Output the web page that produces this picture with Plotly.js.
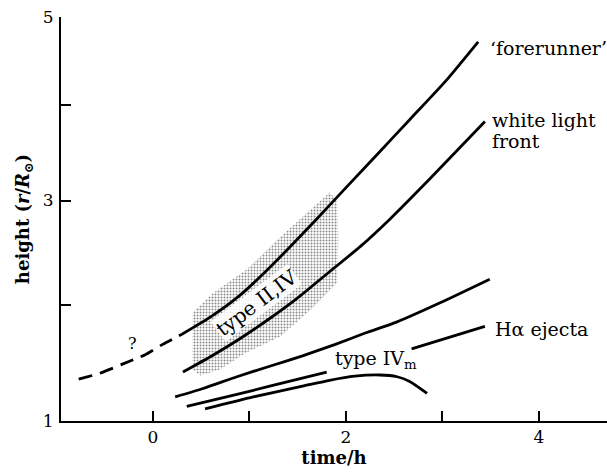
<!DOCTYPE html>
<html>
<head>
<meta charset="utf-8">
<script src="https://cdn.plot.ly/plotly-3.0.1.min.js"></script>
<style>html,body{margin:0;padding:0;background:#fff;}#chart{width:607px;height:472px;}</style>
</head>
<body>
<div id="chart"></div>
<script>
// ---- data (time in h, height in r/Rsun) ----
const forerunnerDashT = [-0.77, -0.55, -0.31, -0.08, 0.10, 0.30];
const forerunnerDashR = [1.35, 1.40, 1.48, 1.56, 1.65, 1.74];
const forerunnerT = [0.30, 0.59, 0.90, 1.21, 1.68, 2.01, 2.35, 2.66, 3.03, 3.37];
const forerunnerR = [1.74, 1.89, 2.09, 2.35, 2.80, 3.14, 3.50, 3.84, 4.26, 4.71];
const whiteLightT = [0.31, 0.59, 0.90, 1.21, 1.49, 1.83, 2.15, 2.46, 2.87, 3.44];
const whiteLightR = [1.41, 1.54, 1.70, 1.88, 2.06, 2.31, 2.55, 2.82, 3.22, 3.82];
const lowerT = [0.23, 0.52, 0.87, 1.21, 1.55, 1.89, 2.20, 2.53, 2.97, 3.49];
const lowerR = [1.20, 1.27, 1.37, 1.46, 1.55, 1.65, 1.75, 1.85, 2.02, 2.24];
const hAlphaT = [0.35, 0.87, 1.21, 1.80, null, 2.68, 3.06, 3.44];
const hAlphaR = [1.12, 1.22, 1.29, 1.41, null, 1.61, 1.71, 1.81];
const typeIVmT = [0.54, 1.04, 1.55, 1.83, 2.09, 2.35, 2.53, 2.66, 2.84];
const typeIVmR = [1.10, 1.20, 1.29, 1.34, 1.375, 1.385, 1.37, 1.33, 1.23];
const typeIIIVT = [0.41, 0.62, 0.97, 1.32, 1.60, 1.83, 1.91, 1.92, 1.91, 1.66, 1.32, 0.97, 0.69, 0.49, 0.41, 0.41];
const typeIIIVR = [1.93, 2.11, 2.33, 2.64, 2.88, 3.08, 3.00, 2.61, 2.21, 1.98, 1.72, 1.58, 1.43, 1.38, 1.43, 1.93];
const xMajorTicks = [0, 2, 4];
const xMinorTicks = [1, 3];
const yMajorTicks = [1, 3, 5];
const yMinorTicks = [2, 4];

// height axis of the original figure is compressed upward: scale ~ ln(r + 8)
const f = r => (r === null ? null : Math.log(r + 8));

const FONT = 'DejaVu Serif';
const lineStyle = {color: '#000', width: 2.8, shape: 'spline', smoothing: 0.6};

const traces = [
  {x: typeIIIVT, y: typeIIIVR.map(f), mode: 'lines', fill: 'toself',
   line: {width: 0, color: 'rgba(0,0,0,0)'}, fillcolor: 'rgba(0,0,0,0)',
   fillpattern: {shape: '.', fgcolor: '#8a8a8a', bgcolor: '#fff', size: 3, solidity: 0.35},
   hoverinfo: 'skip', showlegend: false},
  {x: forerunnerDashT, y: forerunnerDashR.map(f), mode: 'lines',
   line: Object.assign({}, lineStyle, {dash: '14px,8px'}), showlegend: false},
  {x: forerunnerT, y: forerunnerR.map(f), mode: 'lines', line: lineStyle, showlegend: false},
  {x: whiteLightT, y: whiteLightR.map(f), mode: 'lines', line: lineStyle, showlegend: false},
  {x: lowerT, y: lowerR.map(f), mode: 'lines', line: lineStyle, showlegend: false},
  {x: hAlphaT, y: hAlphaR.map(f), mode: 'lines', line: lineStyle, connectgaps: false, showlegend: false},
  {x: typeIVmT, y: typeIVmR.map(f), mode: 'lines', line: lineStyle, showlegend: false}
];

const lab = (text, t, r, opts) => Object.assign({
  text: text, x: t, y: f(r), xref: 'x', yref: 'y', showarrow: false,
  xanchor: 'left', yanchor: 'middle', font: {family: FONT, size: 19, color: '#000'}
}, opts || {});

const tickStyle = {ticks: 'inside', ticklen: 10, tickwidth: 2, tickcolor: '#000'};

const layout = {
  width: 607, height: 472,
  margin: {l: 61, r: 0, t: 17, b: 51, pad: 0},
  paper_bgcolor: '#fff', plot_bgcolor: '#fff',
  font: {family: FONT, color: '#000'},
  showlegend: false,
  xaxis: Object.assign({
    range: [-0.953, 4.705], tickmode: 'array', tickvals: xMajorTicks, ticktext: xMajorTicks.map(String),
    minor: Object.assign({tickmode: 'array', tickvals: xMinorTicks, showgrid: false}, tickStyle),
    showline: true, linewidth: 2, linecolor: '#000', showgrid: false, zeroline: false,
    tickfont: {family: FONT, size: 17, color: '#000'}, ticklabelstandoff: 0,
    title: {text: '<b>time/h</b>', font: {family: FONT, size: 18, color: '#000'}, standoff: 4}
  }, tickStyle),
  yaxis: Object.assign({
    range: [f(1), f(5)], tickmode: 'array', tickvals: yMajorTicks.map(f), ticktext: yMajorTicks.map(String),
    minor: Object.assign({tickmode: 'array', tickvals: yMinorTicks.map(f), showgrid: false}, tickStyle),
    showline: true, linewidth: 2, linecolor: '#000', showgrid: false, zeroline: false,
    tickfont: {family: FONT, size: 17, color: '#000'}, ticklabelstandoff: 2,
    title: {text: '<b>height (<i>r</i>/<i>R</i><sub>⊙</sub>)</b>', font: {family: FONT, size: 18, color: '#000'}, standoff: 8}
  }, tickStyle),
  annotations: [
    lab('‘forerunner’', 3.47, 4.64),
    lab('white light', 3.49, 3.84),
    lab('front', 3.49, 3.61),
    lab('Hα ejecta', 3.52, 1.79),
    lab('type IV<sub>m</sub>', 1.87, 1.52),
    lab('?', -0.21, 1.66, {xanchor: 'center', font: {family: FONT, size: 16, color: '#000'}}),
    lab('type II,IV', 1.07, 2.02, {xanchor: 'center', textangle: -37, bgcolor: 'rgba(255,255,255,0.85)', borderpad: 0,
      font: {family: FONT, size: 20, color: '#000'}})
  ]
};

Plotly.newPlot('chart', traces, layout, {staticPlot: true, displayModeBar: false});
</script>
</body>
</html>
